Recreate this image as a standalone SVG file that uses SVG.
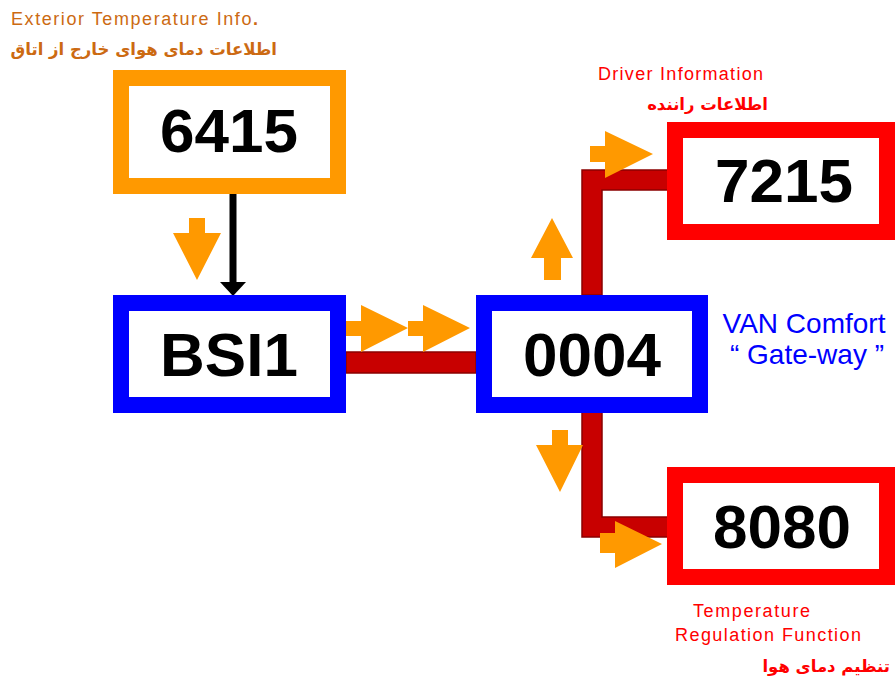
<svg xmlns="http://www.w3.org/2000/svg" width="896" height="680" viewBox="0 0 896 680">
<style>
.box{fill:#ffffff;stroke-width:16}
.or{stroke:#ff9900}.bl{stroke:#0000ff}.rd{stroke:#ff0000}
.num{font-family:"Liberation Sans",Arial,sans-serif;font-weight:bold;font-size:62px;fill:#000;text-anchor:middle}
.lbl{font-family:"Liberation Sans",Arial,sans-serif;font-size:18px}
.fa{font-family:"DejaVu Sans","Noto Sans",sans-serif;font-weight:bold;font-size:16.5px;text-anchor:end}
.wire{fill:#c80000;stroke:#8a0000;stroke-width:1.5}
.oa{fill:#ff9900}
</style>
<rect width="896" height="680" fill="#ffffff"/>
<g id="connectors">
<path class="wire" d="M346,352 H476 V373 H346 Z"/>
<path class="wire" d="M582,295 V170 H668 V190 H602 V295 Z"/>
<path class="wire" d="M582,412 V537 H668 V517 H602 V412 Z"/>
<line x1="233" y1="194" x2="233" y2="284" stroke="#000" stroke-width="7"/>
<polygon points="220,282 246,282 233,296" fill="#000"/>
</g>
<g id="flow-arrows">
<polygon class="oa" points="189,218 205,218 205,233 221,233 197,280 173,233 189,233"/>
<polygon class="oa" points="346,321 361,321 361,305 408,328 361,352 361,336 346,336"/>
<polygon class="oa" points="408,321 423,321 423,305 470,328 423,352 423,336 408,336"/>
<polygon class="oa" points="544,280 561,280 561,258 573,258 552,218 531,258 544,258"/>
<polygon class="oa" points="590,146 605,146 605,131 653,154 605,178 605,162 590,162"/>
<polygon class="oa" points="552,430 568,430 568,445 583,445 560,492 536,445 552,445"/>
<polygon class="oa" points="600,533 615,533 615,521 662,544 615,568 615,553 600,553"/>
</g>
<g id="node-6415">
<rect class="box or" x="121" y="78" width="217" height="108"/>
<text class="num" x="229" y="152">6415</text>
</g>
<g id="node-bsi1">
<rect class="box bl" x="121" y="303" width="217" height="102"/>
<text class="num" x="229" y="376">BSI1</text>
</g>
<g id="node-0004">
<rect class="box bl" x="484" y="303" width="216" height="102"/>
<text class="num" x="592" y="376">0004</text>
</g>
<g id="node-7215">
<rect class="box rd" x="675" y="130" width="212" height="102"/>
<text class="num" x="784" y="202">7215</text>
</g>
<g id="node-8080">
<rect class="box rd" x="675" y="475" width="212" height="102"/>
<text class="num" x="782" y="548">8080</text>
</g>
<g id="labels">
<text class="lbl" x="11" y="25" fill="#cc6a12" textLength="247">Exterior Temperature Info<tspan font-weight="bold">.</tspan></text>
<text class="fa" x="277" y="55" fill="#cc6a12">اطلاعات دمای هوای خارج از اتاق</text>
<text class="lbl" x="598" y="80" fill="#ff0000" textLength="165">Driver Information</text>
<text class="fa" x="768" y="110" fill="#ff0000">اطلاعات راننده</text>
<text x="804" y="333" font-family="Liberation Sans,Arial,sans-serif" font-size="28" fill="#0000ff" text-anchor="middle">VAN Comfort</text>
<text x="807" y="364" font-family="Liberation Sans,Arial,sans-serif" font-size="28" fill="#0000ff" text-anchor="middle">“ Gate-way ”</text>
<text class="lbl" x="693" y="617" fill="#ff0000" textLength="117">Temperature</text>
<text class="lbl" x="675" y="641" fill="#ff0000" textLength="186">Regulation  Function</text>
<text class="fa" x="890" y="672" fill="#ff0000" font-size="17">تنظیم دمای  هوا</text>
</g>
</svg>
